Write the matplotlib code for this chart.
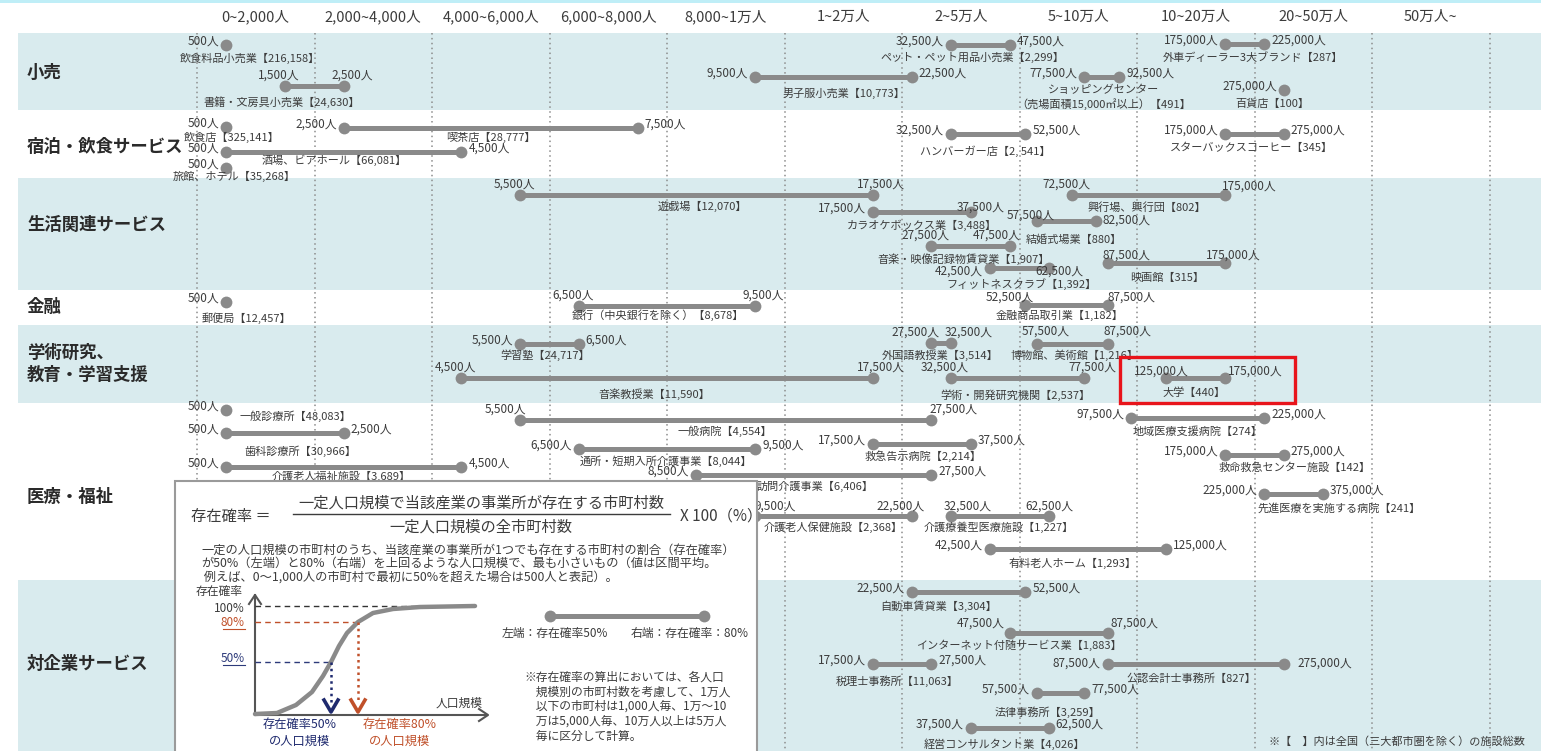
import matplotlib
matplotlib.use("Agg")
import matplotlib.pyplot as plt
import numpy as np
from matplotlib.patches import Rectangle
from matplotlib.transforms import blended_transform_factory

plt.rcParams["font.family"] = ["Noto Sans CJK JP", "DejaVu Sans"]

# ---- data ---------------------------------------------------------------
# population classes (columns of the chart)
BIN_EDGES = [0, 2000, 4000, 6000, 8000, 10000, 20000, 50000,
             100000, 200000, 500000, 1000000]
BIN_LABELS = ["0~2,000人", "2,000~4,000人", "4,000~6,000人", "6,000~8,000人",
              "8,000~1万人", "1~2万人", "2~5万人", "5~10万人", "10~20万人",
              "20~50万人", "50万人~"]

SECTORS = ["小売", "宿泊・飲食サービス", "生活関連サービス", "金融",
           "学術研究、\n教育・学習支援", "医療・福祉", "対企業サービス"]

NAMES = [
    "飲食料品小売業", "書籍・文房具小売業", "男子服小売業", "ペット・ペット用品小売業",
    "外車ディーラー3大ブランド", "ショッピングセンター\n（売場面積15,000㎡以上）", "百貨店",
    "飲食店", "喫茶店", "酒場、ビアホール", "旅館、ホテル", "ハンバーガー店",
    "スターバックスコーヒー",
    "遊戯場", "興行場、興行団", "カラオケボックス業", "結婚式場業",
    "音楽・映像記録物賃貸業", "フィットネスクラブ", "映画館",
    "郵便局", "銀行（中央銀行を除く）", "金融商品取引業",
    "学習塾", "音楽教授業", "外国語教授業", "博物館、美術館", "学術・開発研究機関", "大学",
    "一般診療所", "歯科診療所", "介護老人福祉施設", "一般病院", "通所・短期入所介護事業",
    "救急告示病院", "訪問介護事業", "介護老人保健施設", "介護療養型医療施設",
    "有料老人ホーム", "地域医療支援病院", "救命救急センター施設", "先進医療を実施する病院",
    "自動車賃貸業", "インターネット付随サービス業", "税理士事務所", "公認会計士事務所",
    "法律事務所", "経営コンサルタント業",
]
COUNTS = [
    "216,158", "24,630", "10,773", "2,299", "287", "491", "100",
    "325,141", "28,777", "66,081", "35,268", "2, 541", "345",
    "12,070", "802", "3,488", "880", "1,907", "1,392", "315",
    "12,457", "8,678", "1,182",
    "24,717", "11,590", "3,514", "1,216", "2,537", "440",
    "48,083", "30,966", "3,689", "4,554", "8,044", "2,214", "6,406", "2,368",
    "1,227", "1,293", "274", "142", "241",
    "3,304", "1,883", "11,063", "827", "3,259", "4,026",
]
# population where presence probability exceeds 50% (left) and 80% (right)
LOW = [
    500, 1500, 9500, 32500, 175000, 77500, 275000,
    500, 2500, 500, 500, 32500, 175000,
    5500, 72500, 17500, 57500, 27500, 42500, 87500,
    500, 6500, 52500,
    5500, 4500, 27500, 57500, 32500, 125000,
    500, 500, 500, 5500, 6500, 17500, 8500, 9500, 32500, 42500, 97500, 175000, 225000,
    22500, 47500, 17500, 87500, 57500, 37500,
]
HIGH = [
    500, 2500, 22500, 47500, 225000, 92500, 275000,
    500, 7500, 4500, 500, 52500, 275000,
    17500, 175000, 37500, 82500, 47500, 62500, 175000,
    500, 9500, 87500,
    6500, 17500, 32500, 87500, 77500, 175000,
    500, 2500, 4500, 27500, 9500, 37500, 27500, 22500, 62500, 125000, 225000, 275000, 375000,
    52500, 87500, 27500, 275000, 77500, 62500,
]

# ---- layout (pixels) ----------------------------------------------------
W, H = 1541, 751
COL0, COLW = 197, 117.5
BAND_EDGES = [33, 110, 178, 290, 325, 403, 580, 751]
SECTOR_Y = [73, 147, 225, 307, 364, 497, 664]
ROW_Y = [45, 86, 77, 45, 44, 77, 90,
         127, 128, 152, 168, 134, 134,
         195, 195, 212, 221, 246, 268, 263,
         302, 306, 305,
         344, 378, 343, 344, 378, 378,
         410, 433, 467, 420, 449, 444, 475, 516, 516, 549, 418, 455, 494,
         592, 633, 664, 664, 693, 728]
NAME_OFF = [(24, 13), (-33, 16), (10, 16), (-8, 12), (8, 14), (2, 20), (-12, 14),
            (5, 10), (0, 9), (-10, 8), (8, 8), (-3, 17), (-3, 14),
            (6, 11), (-2, 13), (0, 13), (7, 19), (-7, 13), (2, 16), (1, 15),
            (20, 16), (-9, 9), (-7, 10),
            (-4, 11), (-13, 16), (-1, 12), (2, 11), (-2, 17), (-2, 15),
            (69, 6), (15, 18), (-3, 9), (-1, 11), (-1, 12), (1, 12), (1, 11), (0, 11),
            (-1, 11), (-6, 14), (0, 14), (40, 13), (45, 14),
            (-30, 14), (-40, 12), (-5, 17), (-4, 15), (-13, 19), (-5, 16)]
# S: values beside the dots, A: values above the dots
LABEL_MODE = list("SASSSSS" "SSSSSS" "AASSASA" "SAA" "SAAAAA"
                  "SSSASSSAASSSS" "SASASS")
MODE_OFF = {"S": ((-7, 4, "right"), (7, 4, "left")),
            "A": ((-6, 11, "center"), (8, 11, "center"))}
# per-row tweaks of the value labels: index -> (left, right)
VAL_NUDGE = {
    14: (None, (24, 9, "center")),
    15: (None, (10, 5, "center")),
    16: ((-6, 6, "center"), (7, 1, "left")),
    17: (None, (-13, 11, "center")),
    18: ((-7, -3, "right"), (-14, -3, "left")),
    19: ((19, 8, "center"), (8, 8, "center")),
    22: ((-16, 8, "center"), (24, 8, "center")),
    25: ((-16, 11, "center"), (18, 11, "center")),
    26: ((9, 13, "center"), (20, 13, "center")),
    28: ((-5, 7, "center"), (30, 7, "center")),
    32: ((-15, 11, "center"), (22, 11, "center")),
    36: ((20, 10, "center"), (-11, 10, "center")),
    37: ((17, 10, "center"), (0, 10, "center")),
    43: ((-29, 10, "center"), (27, 10, "center")),
    45: ((-7, 1, "right"), (14, 1, "left")),
}

GRAY = "#8a8a8a"
TXT = "#3c3c3c"
BAND = "#d9ebee"

EDGES = np.array(BIN_EDGES, float)
IDX = np.arange(len(EDGES), dtype=float)


def to_pos(p):
    p = np.asarray(p, float)
    out = np.interp(p, EDGES, IDX)
    out = np.where(p < EDGES[0], (p - EDGES[0]) / (EDGES[1] - EDGES[0]), out)
    out = np.where(p > EDGES[-1],
                   IDX[-1] + (p - EDGES[-1]) / (EDGES[-1] - EDGES[-2]), out)
    return out


def to_pop(x):
    x = np.asarray(x, float)
    out = np.interp(x, IDX, EDGES)
    out = np.where(x < 0, x * (EDGES[1] - EDGES[0]), out)
    out = np.where(x > IDX[-1],
                   EDGES[-1] + (x - IDX[-1]) * (EDGES[-1] - EDGES[-2]), out)
    return out


fig = plt.figure(figsize=(W / 100, H / 100), dpi=100)
ax = fig.add_axes([0, 0, 1, 1])
ax.set_xscale("function", functions=(to_pos, to_pop))
ax.set_xlim(float(to_pop(-COL0 / COLW)), float(to_pop((W - COL0) / COLW)))
ax.set_ylim(H, 0)
ax.axis("off")

# background bands and top rule
for i in range(len(SECTORS)):
    if i % 2 == 0:
        ax.axhspan(BAND_EDGES[i], BAND_EDGES[i + 1], xmin=18 / W, xmax=1,
                   color=BAND, lw=0, zorder=0)
ax.axhspan(0, 2.5, color="#bfeef7", lw=0, zorder=0)

# column separators and headers
for e in BIN_EDGES:
    ax.plot([e, e], [BAND_EDGES[0], H], color="#8c8c8c", lw=1.1,
            ls=(0, (1, 2.2)), zorder=1)
for k, lab in enumerate(BIN_LABELS):
    ax.text(float(to_pop(k + 0.5)), 17, lab, ha="center", va="center",
            fontsize=10.5, color=TXT)

tr = blended_transform_factory(ax.transAxes, ax.transData)
for lab, y in zip(SECTORS, SECTOR_Y):
    ax.text(27 / W, y, lab, transform=tr, ha="left", va="center",
            fontsize=12.5, fontweight="bold", color="#2a2a2a", linespacing=1.25)

# dumbbells
for i, name in enumerate(NAMES):
    lo, hi, y = LOW[i], HIGH[i], ROW_Y[i]
    if lo != hi:
        ax.plot([lo, hi], [y, y], color=GRAY, lw=3.6, solid_capstyle="butt",
                zorder=3)
        ax.plot([lo, hi], [y, y], "o", ms=8.5, color=GRAY, mec="none", zorder=4)
    else:
        ax.plot([lo], [y], "o", ms=8.5, color=GRAY, mec="none", zorder=4)

    kw = dict(textcoords="offset pixels", fontsize=8.5, color=TXT, va="center",
              zorder=5)
    mode = LABEL_MODE[i] if lo != hi else "S"
    loff, roff = MODE_OFF[mode]
    nl, nr = VAL_NUDGE.get(i, (None, None))
    loff = nl or loff
    roff = nr or roff
    ax.annotate(f"{lo:,}人", (lo, y), xytext=loff[:2], ha=loff[2], **kw)
    if lo != hi:
        ax.annotate(f"{hi:,}人", (hi, y), xytext=roff[:2], ha=roff[2], **kw)

    mid = float(to_pop((to_pos(lo) + to_pos(hi)) / 2))
    dx, dy = NAME_OFF[i]
    lines = name.split("\n")
    lines[-1] += f"【{COUNTS[i]}】"
    ax.annotate("\n".join(lines), (mid, y), xytext=(dx, -dy),
                textcoords="offset pixels", ha="center", va="center",
                fontsize=8, color=TXT, linespacing=1.3, zorder=5)

ax.text(1525 / W, 742, "※【　】内は全国（三大都市圏を除く）の施設総数", transform=tr,
        ha="right", va="center", fontsize=8, color=TXT)

# ---- overlay: explanation box and highlight ------------------------------
ov = fig.add_axes([0, 0, 1, 1], zorder=5)
ov.set_xlim(0, W)
ov.set_ylim(H, 0)
ov.axis("off")

ov.add_patch(Rectangle((1120, 357), 175, 46, fill=False, ec="#e8141b", lw=2.4))
ov.add_patch(Rectangle((175, 481), 582, 290, fc="white", ec="#9a9a9a", lw=1.5))

ov.text(191, 516, "存在確率 ＝", fontsize=11, va="center", color=TXT)
ov.text(481, 503, "一定人口規模で当該産業の事業所が存在する市町村数", fontsize=11,
        ha="center", va="center", color=TXT)
ov.plot([293, 670], [514, 514], color=TXT, lw=1)
ov.text(481, 527, "一定人口規模の全市町村数", fontsize=11, ha="center",
        va="center", color=TXT)
ov.text(680, 516, "X 100（%）", fontsize=11, va="center", color=TXT)

PARA = ["一定の人口規模の市町村のうち、当該産業の事業所が1つでも存在する市町村の割合（存在確率）",
        "が50%（左端）と80%（右端）を上回るような人口規模で、最も小さいもの（値は区間平均。",
        " 例えば、0～1,000人の市町村で最初に50%を超えた場合は500人と表記）。"]
for j, line in enumerate(PARA):
    ov.text(201, 550 + 13.5 * j, line, fontsize=8.8, va="center", color=TXT)

# schematic presence-probability curve
CURVE_X = [255, 277, 296, 312, 323, 331, 339, 347, 358, 373, 393, 420, 475]
CURVE_Y = [714, 713, 705, 692, 676, 662, 646, 633, 622, 613, 609, 607, 606]
AX_C = "#555555"
ov.plot([255, 255], [715, 595], color=AX_C, lw=1.5)
ov.plot([249, 255, 261], [604, 595, 604], color=AX_C, lw=1.5)
ov.plot([255, 487], [715, 715], color=AX_C, lw=1.5)
ov.plot([479, 488, 479], [709, 715, 721], color=AX_C, lw=1.5)
ov.plot([255, 475], [606, 606], color="#333333", lw=1, ls=(0, (4, 3)))
ov.plot([255, 358], [622, 622], color="#c0502a", lw=1, ls=(0, (4, 3)))
ov.plot([255, 331], [662, 662], color="#2d3a7a", lw=1, ls=(0, (4, 3)))
ov.plot(CURVE_X, CURVE_Y, color=GRAY, lw=3.2, solid_joinstyle="round",
        solid_capstyle="round")
for x, y0, c in [(331, 662, "#1f2a6e"), (358, 622, "#c0502a")]:
    ov.plot([x, x], [y0, 702], color=c, lw=1.8, ls=(0, (1, 1.5)))
    ov.plot([x - 7, x, x + 7], [700, 712, 700], color=c, lw=2.6)
ov.text(196, 591, "存在確率", fontsize=8.5, va="center", color=TXT)
ov.text(245, 609, "100%", fontsize=8.5, ha="right", va="center", color=TXT)
ov.text(245, 622, "80%", fontsize=8.5, ha="right", va="center", color="#c0502a")
ov.plot([223, 245], [629, 629], color="#c0502a", lw=0.8)
ov.text(245, 658, "50%", fontsize=8.5, ha="right", va="center", color="#2d3a7a")
ov.plot([223, 245], [665, 665], color="#2d3a7a", lw=0.8)
ov.text(483, 703, "人口規模", fontsize=8.5, ha="right", va="center", color=TXT)
ov.text(300, 733, "存在確率50%\nの人口規模", fontsize=8.8, ha="center", va="center",
        color="#1f2a6e", linespacing=1.35)
ov.text(400, 733, "存在確率80%\nの人口規模", fontsize=8.8, ha="center", va="center",
        color="#c0502a", linespacing=1.35)

ov.plot([550, 704], [616, 616], color=GRAY, lw=3.6)
ov.plot([550, 704], [616, 616], "o", ms=8.5, color=GRAY, mec="none")
ov.text(502, 633, "左端：存在確率50%", fontsize=8.5, va="center", color=TXT)
ov.text(631, 633, "右端：存在確率：80%", fontsize=8.5, va="center", color=TXT)

NOTE = ["※存在確率の算出においては、各人口", "　規模別の市町村数を考慮して、1万人",
        "　以下の市町村は1,000人毎、1万～10", "　万は5,000人毎、10万人以上は5万人",
        "　毎に区分して計算。"]
for j, line in enumerate(NOTE):
    ov.text(524, 677 + 14.8 * j, line, fontsize=8.5, va="center", color=TXT)

fig.savefig("out.png", dpi=100)
